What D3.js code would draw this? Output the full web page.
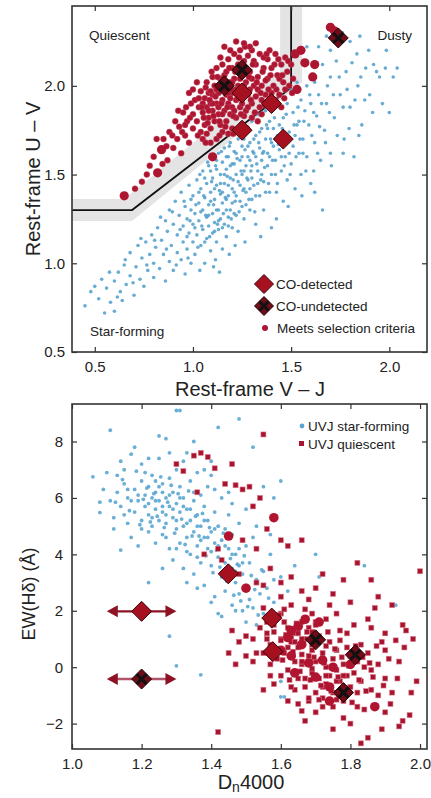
<!DOCTYPE html>
<html><head><meta charset="utf-8">
<script src="https://cdn.jsdelivr.net/npm/d3@7"></script>
<style>
body{margin:0;background:#fff}
svg{display:block}
text{font-family:"Liberation Sans",Arial,Helvetica,sans-serif;fill:#222}
</style>
</head><body>
<svg id="c" width="431" height="798"></svg>
<script>
// ---------------- DATA ----------------
// Top panel: UVJ diagram (x = Rest-frame V-J, y = Rest-frame U-V)
const uvjXTicks = [0.5, 1.0, 1.5, 2.0];
const uvjYTicks = [0.5, 1.0, 1.5, 2.0];
const uvjBoundary = [[0.384,1.3],[0.69,1.3],[1.5,1.99],[1.5,2.45]];
const uvjBoundaryBand = [[0.384,1.3],[0.67,1.3],[1.5,2.05],[1.5,2.45]];

const uvjAll = [
[0.45,0.76],[0.48,0.84],[0.5,0.87],[0.52,0.8],[0.55,0.72],[0.56,0.86],[0.58,0.78],[0.6,0.73],[0.6,0.9],[0.62,0.95],
[0.63,0.84],[0.64,0.79],[0.65,0.99],[0.66,0.88],[0.68,0.93],[0.68,1.06],[0.7,0.82],[0.71,0.98],[0.72,1.1],[0.73,0.91],
[0.74,1.03],[0.75,0.87],[0.76,1.12],[0.77,0.96],[0.78,1.05],[0.79,1.16],[0.8,0.92],[0.8,1.0],[0.81,1.09],[0.82,1.2],
[0.83,0.97],[0.84,1.13],[0.85,1.05],[0.86,1.24],[0.86,0.9],[0.87,1.18],[0.88,1.01],[0.88,1.3],[0.89,1.1],[0.9,1.22],
[0.9,0.96],[0.91,1.35],[0.92,1.06],[0.92,1.16],[0.93,1.27],[0.94,1.02],[0.94,1.4],[0.95,1.12],[0.95,1.21],[0.96,0.94],
[0.96,1.32],[0.97,1.08],[0.97,1.25],[0.98,1.17],[0.98,1.44],[0.99,1.0],[0.99,1.3],[1.0,1.12],[1.0,1.38],[1.0,1.22],
[1.01,1.05],[1.01,1.28],[1.02,1.47],[1.02,1.16],[1.03,1.34],[1.03,1.24],[1.04,1.1],[1.04,1.42],[1.05,1.19],[1.05,1.3],
[1.05,1.52],[1.06,1.0],[1.06,1.37],[1.07,1.14],[1.07,1.26],[1.07,1.45],[1.08,1.21],[1.08,1.33],[1.08,1.55],[1.09,1.07],
[1.09,1.4],[1.1,1.17],[1.1,1.28],[1.1,1.48],[1.1,1.6],[1.11,1.23],[1.11,1.36],[1.12,1.12],[1.12,1.44],[1.12,1.53],
[1.13,1.3],[1.13,1.19],[1.13,1.62],[1.14,1.39],[1.14,1.25],[1.14,1.5],[1.15,1.08],[1.15,1.34],[1.15,1.57],[1.16,1.22],
[1.16,1.45],[1.16,1.65],[1.17,1.3],[1.17,1.15],[1.17,1.53],[1.18,1.38],[1.18,1.6],[1.18,1.26],[1.19,1.48],[1.19,1.68],
[1.2,1.2],[1.2,1.34],[1.2,1.56],[1.2,1.42],[1.21,1.28],[1.21,1.63],[1.22,1.5],[1.22,1.38],[1.23,1.7],[1.23,1.18],
[1.24,1.44],[1.24,1.58],[1.25,1.32],[1.25,1.66],[1.26,1.52],[1.26,1.25],[1.27,1.4],[1.27,1.74],[1.28,1.6],[1.28,1.47],
[1.29,1.3],[1.29,1.68],[1.3,1.55],[1.3,1.8],[1.3,1.36],[1.31,1.62],[1.31,1.44],[1.32,1.72],[1.32,1.22],[1.33,1.52],
[1.33,1.84],[1.34,1.38],[1.34,1.65],[1.35,1.58],[1.35,1.76],[1.36,1.46],[1.36,1.3],[1.37,1.7],[1.37,1.86],[1.38,1.55],
[1.38,1.62],[1.39,1.4],[1.39,1.8],[1.4,1.5],[1.4,1.68],[1.4,1.2],[1.41,1.76],[1.42,1.58],[1.42,1.88],[1.43,1.45],
[1.44,1.64],[1.44,1.94],[1.45,1.52],[1.46,1.82],[1.46,1.35],[1.47,1.6],[1.48,1.9],[1.48,1.47],[1.49,1.74],[1.5,1.56],
[1.5,1.98],[1.51,1.66],[1.51,1.85],[1.52,1.42],[1.53,1.78],[1.53,2.02],[1.54,1.62],[1.55,1.92],[1.55,1.5],[1.56,1.7],
[1.57,1.86],[1.58,2.0],[1.58,1.6],[1.59,1.78],[1.6,1.45],[1.6,1.9],[1.62,1.68],[1.62,2.02],[1.63,1.83],[1.64,1.95],
[1.65,1.58],[1.66,2.12],[1.67,1.75],[1.68,1.9],[1.7,2.05],[1.7,1.62],[1.72,1.82],[1.73,2.14],[1.75,1.95],[1.76,2.3],
[1.77,1.7],[1.78,2.08],[1.8,1.88],[1.81,2.13],[1.82,1.6],[1.84,2.0],[1.85,2.28],[1.86,1.78],[1.88,2.1],[1.9,1.95],
[1.92,2.12],[1.95,2.05],[1.98,2.1],[2.0,1.85],[2.04,2.1],[2.02,2.05],[1.62,1.4],[1.58,2.22],[1.66,1.3],[0.97,1.15],
[0.99,1.36],[1.01,1.2],[1.03,1.4],[1.04,1.29],[1.06,1.12],[1.06,1.48],[1.08,1.27],[1.09,1.35],[1.09,1.52],[1.11,1.18],
[1.11,1.42],[1.12,1.3],[1.12,1.58],[1.13,1.24],[1.14,1.45],[1.15,1.2],[1.15,1.4],[1.16,1.5],[1.17,1.36],[1.17,1.6],
[1.18,1.21],[1.18,1.44],[1.19,1.3],[1.19,1.55],[1.21,1.4],[1.21,1.56],[1.22,1.27],[1.22,1.62],[1.23,1.46],[1.24,1.35],
[1.25,1.5],[1.25,1.6],[1.26,1.42],[1.26,1.7],[1.27,1.33],[1.27,1.55],[1.28,1.66],[1.29,1.42],[1.29,1.58],[1.3,1.48],
[1.31,1.7],[1.32,1.38],[1.32,1.6],[1.33,1.45],[1.34,1.74],[1.35,1.5],[1.36,1.63],[1.37,1.4],[1.38,1.76],[1.39,1.6],
[1.41,1.66],[1.42,1.5],[1.43,1.72],[1.45,1.6],[1.47,1.68],[1.49,1.62],[1.52,1.72],[1.54,1.8],[1.56,1.62],[1.44,1.78],
[0.535,0.91],[0.575,0.95],[0.615,0.81],[0.655,1.02],[0.695,0.89],[0.735,1.14],[0.765,0.99],[0.805,1.13],[0.835,1.26],[0.865,1.08],
[0.895,1.29],[0.915,0.99],[0.935,1.19],[0.955,1.35],[0.975,1.03],[0.985,1.24],[1.015,1.33],[1.025,1.09],[1.035,1.5],[1.045,1.21],
[1.055,1.38],[1.065,1.27],[1.075,1.57],[1.085,1.15],[1.095,1.46],[1.105,1.33],[1.115,1.55],[1.125,1.22],[1.135,1.41],[1.145,1.63],
[1.155,1.28],[1.165,1.37],[1.175,1.49],[1.185,1.66],[1.195,1.25],[1.205,1.47],[1.215,1.35],[1.225,1.59],[1.235,1.29],[1.245,1.52],
[1.255,1.41],[1.265,1.64],[1.275,1.48],[1.285,1.36],[1.295,1.52],[1.305,1.63],[1.315,1.29],[1.325,1.56],[1.335,1.68],[1.345,1.47],
[1.355,1.62],[1.365,1.54],[1.375,1.78],[1.385,1.45],[1.395,1.7],[1.405,1.58],[1.415,1.82],[1.425,1.4],[1.435,1.67],[1.455,1.76],
[1.465,1.55],[1.475,1.84],[1.485,1.7],[1.495,1.5],[1.515,1.78],[1.525,1.6],[1.535,1.88],[1.545,1.7],[1.565,1.8],[1.575,1.52],
[1.595,1.95],[1.605,1.72],[1.615,1.85],[1.635,1.62],[1.645,1.77],[1.655,1.9],[1.675,1.68],[1.685,2.0],[1.695,1.85],[1.715,1.95],
[1.735,1.72],[1.745,2.05],[1.765,1.88],[1.785,1.98],[1.795,1.76],[1.825,1.92],[1.835,2.18],[1.855,2.05],[1.875,1.92],[1.895,2.2],
[1.915,1.85],[1.935,2.08],[1.965,1.9],[1.985,2.2],[1.555,1.38],[1.615,1.52],[1.705,1.55],[1.765,1.62],[1.845,1.72],[1.485,1.32],
[1.425,1.25],[1.345,1.15],[1.265,1.12],[1.185,1.05],[1.105,0.98],[1.035,0.96],[1.135,0.95],[1.215,1.1],[1.115,1.02],[1.64,2.22],
[1.7,2.2],[1.8,2.25],[1.68,2.28]
];

const uvjSelected = [
[0.74,1.46],[0.78,1.55],[0.8,1.6],[0.85,1.7],[0.87,1.58],[0.88,1.74],[0.9,1.65],[0.91,1.8],[0.92,1.7],[0.93,1.77],
[0.94,1.62],[0.95,1.85],[0.96,1.72],[0.97,1.8],[0.98,1.68],[0.99,1.9],[1.0,1.76],[1.0,1.84],[1.01,1.92],[1.02,1.8],
[1.03,1.88],[1.04,1.97],[1.04,1.74],[1.05,1.85],[1.06,1.93],[1.06,1.78],[1.07,2.02],[1.07,1.88],[1.08,1.82],[1.08,1.96],
[1.09,1.9],[1.09,1.76],[1.1,2.05],[1.1,1.86],[1.1,1.95],[1.11,1.8],[1.11,2.0],[1.12,1.9],[1.12,2.1],[1.13,1.84],
[1.13,1.96],[1.14,2.04],[1.14,1.78],[1.15,1.92],[1.15,2.12],[1.16,1.86],[1.16,2.06],[1.17,1.95],[1.17,1.8],[1.18,2.15],
[1.18,1.9],[1.19,2.02],[1.19,1.84],[1.2,2.1],[1.2,1.96],[1.2,1.88],[1.21,2.18],[1.21,2.04],[1.22,1.92],[1.22,1.82],
[1.23,2.12],[1.23,2.0],[1.24,1.88],[1.24,2.2],[1.25,2.06],[1.26,1.94],[1.26,2.14],[1.27,1.86],[1.27,2.02],[1.28,2.17],
[1.28,1.95],[1.29,2.08],[1.3,1.9],[1.3,2.2],[1.31,2.0],[1.32,1.94],[1.32,2.12],[1.33,2.05],[1.34,1.88],[1.34,2.18],
[1.35,2.0],[1.36,2.1],[1.37,1.95],[1.38,2.15],[1.38,2.04],[1.39,1.9],[1.4,2.1],[1.41,2.0],[1.42,2.18],[1.43,2.06],
[1.44,1.95],[1.45,2.12],[1.46,2.02],[1.47,2.16],[1.48,2.08],[1.49,2.0],[1.5,2.12],[1.51,2.04],[1.05,1.9],[1.08,1.86],
[1.1,1.9],[1.12,1.98],[1.13,1.88],[1.15,1.84],[1.16,1.98],[1.17,2.08],[1.18,1.96],[1.19,1.93],[1.2,2.02],[1.21,1.86],
[1.22,1.98],[1.23,1.93],[1.24,2.04],[1.25,1.9],[1.26,2.0],[1.27,2.1],[1.28,1.88],[1.29,1.98],[1.3,2.04],[1.31,2.14],
[1.33,1.98],[1.35,1.92],[1.36,2.16],[1.4,1.96],[1.15,1.74],[1.2,1.76],[1.25,1.78],[1.3,1.82],[1.35,1.84],[1.12,1.7],
[1.05,1.7],[0.98,1.96],[1.02,2.02],[0.96,1.78],[1.09,1.68],[1.14,2.16],[1.19,2.2],[1.29,2.22],[1.39,2.2],[1.44,2.04],
[1.47,1.98],[1.45,1.88],[1.42,1.92],[1.37,2.03],[1.26,1.83],[1.18,1.73],[1.09,1.97],[1.03,1.93],[1.0,1.98],[1.07,1.73],
[1.055,1.82],[1.065,1.99],[1.075,1.79],[1.085,1.92],[1.095,2.08],[1.105,1.83],[1.115,1.94],[1.125,2.05],[1.135,1.8],[1.145,1.9],
[1.155,2.02],[1.165,1.77],[1.175,1.88],[1.185,2.1],[1.195,1.98],[1.205,1.83],[1.215,2.08],[1.225,1.95],[1.235,2.16],[1.245,1.84],
[1.255,2.12],[1.265,2.22],[1.275,1.97],[1.285,2.05],[1.295,1.92],[1.305,2.12],[1.315,1.85],[1.325,2.02],[1.345,1.96],[1.355,2.08],
[1.365,1.89],[1.375,2.18],[1.385,1.98],[1.395,2.06],[1.415,2.12],[1.425,1.98],[1.435,2.15],[1.455,2.06],[1.465,1.93],[1.485,2.14],
[1.505,1.96],[1.22,2.25],[1.26,2.24],[1.32,2.24],[1.16,2.22],[0.985,1.82],[0.965,1.88],[0.945,1.74],[0.925,1.86],[0.895,1.72],
[0.865,1.66],[0.845,1.56],[0.815,1.7],[0.765,1.5],[0.705,1.42],[1.025,1.72],[1.045,1.88],[1.065,1.68],[1.135,1.72],[1.205,1.73],
[1.275,1.76],[1.33,1.8]
];
const uvjSelectedLarge = [
[0.65,1.38],[0.82,1.51],[0.84,1.64],[1.1,1.6],[1.55,2.2],[1.57,2.13],[1.62,2.12],[1.61,2.05],[1.52,2.18],[1.7,2.33],[1.72,2.31],[1.53,1.98]
];
const uvjCODetected = [[1.25,1.96],[1.40,1.90],[1.25,1.75],[1.46,1.70]];
const uvjCOUndetected = [[1.74,2.27],[1.25,2.09],[1.16,2.0]];

// Bottom panel: EW(Hdelta) vs Dn4000
const d4XTicks = [1.0, 1.2, 1.4, 1.6, 1.8, 2.0];
const d4YTicks = [-2, 0, 2, 4, 6, 8];

const d4StarForming = [
[1.06,6.75],[1.08,5.48],[1.08,5.85],[1.1,6.9],[1.11,8.4],[1.12,5.3],[1.12,4.9],[1.13,6.2],[1.14,5.7],[1.14,4.15],
[1.15,6.5],[1.15,7.0],[1.16,5.1],[1.16,6.0],[1.17,4.6],[1.17,7.55],[1.18,5.5],[1.18,6.3],[1.19,5.9],[1.19,4.3],
[1.2,6.6],[1.2,5.2],[1.2,7.2],[1.21,5.7],[1.21,6.1],[1.22,4.8],[1.22,6.4],[1.22,5.4],[1.23,6.0],[1.23,5.0],
[1.23,6.8],[1.24,5.6],[1.24,4.4],[1.24,6.2],[1.25,5.9],[1.25,5.2],[1.25,7.4],[1.26,6.5],[1.26,4.7],[1.26,5.5],
[1.27,6.0],[1.27,5.1],[1.27,8.1],[1.28,5.7],[1.28,4.2],[1.28,6.7],[1.29,5.3],[1.29,6.2],[1.29,3.8],[1.3,5.8],
[1.3,4.9],[1.3,7.0],[1.31,5.5],[1.31,4.4],[1.31,6.4],[1.32,5.0],[1.32,6.0],[1.32,3.5],[1.33,5.6],[1.33,4.6],
[1.33,7.6],[1.34,5.2],[1.34,4.0],[1.34,6.6],[1.35,4.8],[1.35,5.9],[1.35,3.3],[1.36,5.4],[1.36,4.3],[1.36,6.9],
[1.37,5.0],[1.37,3.7],[1.37,6.1],[1.38,4.6],[1.38,5.7],[1.38,2.9],[1.39,4.2],[1.39,5.2],[1.39,6.4],[1.4,3.6],
[1.4,4.8],[1.4,7.3],[1.41,4.4],[1.41,5.5],[1.41,2.5],[1.42,3.9],[1.42,5.0],[1.42,1.9],[1.43,4.5],[1.43,3.2],
[1.43,6.0],[1.44,3.7],[1.44,4.9],[1.44,2.7],[1.45,4.2],[1.45,5.4],[1.46,3.5],[1.46,2.2],[1.46,4.7],[1.47,3.0],
[1.47,4.0],[1.48,2.6],[1.48,3.6],[1.48,5.1],[1.49,2.0],[1.49,3.3],[1.5,2.9],[1.5,4.3],[1.5,1.6],[1.51,2.4],
[1.51,3.7],[1.52,2.1],[1.53,3.1],[1.53,1.5],[1.54,2.6],[1.55,3.4],[1.55,1.9],[1.56,2.8],[1.57,4.0],[1.58,2.3],
[1.58,6.0],[1.6,3.2],[1.6,6.6],[1.62,2.7],[1.6,-0.5],[1.6,-1.05],[1.61,-1.05],[1.52,7.8],[1.48,8.8],[1.42,8.5],
[1.3,9.1],[1.31,9.1],[1.35,8.0],[1.25,8.2],[1.18,7.8],[1.28,1.1],[1.3,0.05],[1.37,-0.27],[1.22,3.0],[1.43,1.8],
[1.7,4.0],[1.71,3.2],[1.84,3.6],[1.93,2.2],[1.5,5.6],[1.45,6.2],[1.4,6.8],[1.53,5.0],[1.57,4.7],[1.55,6.4],
[1.21,6.9],[1.23,5.3],[1.24,5.9],[1.25,6.4],[1.26,5.7],[1.27,5.4],[1.28,6.1],[1.29,5.6],[1.3,5.2],[1.31,6.0],
[1.32,5.7],[1.33,5.1],[1.34,5.6],[1.35,6.2],[1.36,5.0],[1.37,4.5],[1.38,5.2],[1.39,4.6],[1.4,4.1],[1.41,4.9],
[1.42,4.3],[1.43,3.8],[1.44,4.3],[1.45,3.2],[1.46,4.0],[1.47,3.4],[1.48,4.2],[1.49,3.7],[1.27,4.6],[1.3,4.2],
[1.33,4.1],[1.36,3.9],[1.2,4.9],[1.19,6.1],[1.17,5.9],[1.16,6.3],[1.15,5.4],[1.22,5.8],[1.24,6.6],[1.26,6.2],
[1.125,5.85],[1.145,6.65],[1.165,5.55],[1.185,6.95],[1.195,5.05],[1.205,5.95],[1.215,6.35],[1.225,5.15],[1.235,6.15],[1.245,5.35],
[1.255,6.75],[1.265,4.95],[1.275,5.85],[1.285,6.45],[1.295,4.75],[1.305,6.15],[1.315,5.25],[1.325,4.35],[1.335,6.25],[1.345,4.65],
[1.355,5.35],[1.365,4.65],[1.375,5.45],[1.385,3.95],[1.395,4.95],[1.405,3.35],[1.415,4.15],[1.425,3.55],[1.435,4.75],[1.445,3.05],
[1.455,3.85],[1.465,2.55],[1.475,3.65],[1.485,2.35],[1.495,3.95],[1.505,2.15],[1.515,3.25],[1.525,2.75],[1.535,1.85],[1.545,3.45],
[1.565,2.45],[1.58,3.1],[1.52,4.6],[1.46,5.8],[1.41,6.3],[1.38,7.0],[1.32,7.3],[1.28,7.6],[1.22,7.4],[1.14,7.3],
[1.13,6.8],[1.11,5.9],[1.09,6.3],[1.64,3.6],[1.59,1.7],[1.47,2.0],[1.4,2.3],[1.36,2.8],[1.33,3.0],[1.26,3.5]
];

const d4Quiescent = [
[1.3,7.2],[1.32,6.95],[1.35,7.5],[1.37,7.6],[1.39,7.45],[1.41,7.05],[1.36,6.2],[1.44,6.5],[1.46,7.2],[1.47,6.45],
[1.49,6.3],[1.51,6.4],[1.55,8.25],[1.54,6.0],[1.52,5.7],[1.42,4.2],[1.49,4.5],[1.56,4.9],[1.53,4.2],[1.6,4.5],
[1.62,4.3],[1.66,4.5],[1.38,4.0],[1.43,3.8],[1.48,3.3],[1.53,3.0],[1.55,2.9],[1.57,3.5],[1.6,3.0],[1.63,3.2],
[1.66,2.7],[1.7,2.8],[1.72,3.3],[1.75,2.6],[1.78,3.1],[1.82,3.7],[1.86,3.1],[2.0,3.4],[1.88,2.5],[1.92,2.2],
[1.95,1.5],[1.98,1.0],[1.9,1.2],[1.55,2.1],[1.56,1.2],[1.57,0.8],[1.58,1.5],[1.59,0.3],[1.6,1.9],[1.6,1.0],
[1.61,0.5],[1.62,1.4],[1.62,-0.1],[1.63,0.9],[1.63,2.2],[1.64,0.2],[1.64,1.2],[1.65,0.7],[1.65,-0.4],[1.66,1.6],
[1.66,0.1],[1.67,1.0],[1.67,-0.7],[1.68,0.4],[1.68,1.4],[1.69,-0.2],[1.69,0.8],[1.7,1.6],[1.7,-0.9],[1.7,0.2],
[1.71,-0.4],[1.71,1.1],[1.72,0.5],[1.72,-1.1],[1.73,0.0],[1.73,-0.6],[1.74,0.9],[1.74,-0.3],[1.75,0.3],[1.75,-0.9],
[1.76,-0.1],[1.76,0.6],[1.77,-0.5],[1.77,1.3],[1.78,0.1],[1.78,-1.2],[1.79,-0.3],[1.79,0.7],[1.8,-0.7],[1.8,0.4],
[1.81,-0.2],[1.81,1.5],[1.82,-0.9],[1.82,0.2],[1.83,0.8],[1.83,-0.5],[1.84,0.0],[1.84,-1.5],[1.85,0.5],[1.86,-0.8],
[1.86,1.4],[1.88,0.1],[1.88,-1.0],[1.9,0.6],[1.9,-0.4],[1.92,-0.9],[1.94,0.2],[1.95,-1.9],[1.97,-1.7],[1.8,-2.0],
[1.78,-1.8],[1.72,-1.4],[1.68,-1.2],[1.65,-1.3],[1.62,-1.2],[1.58,-0.6],[1.55,-0.8],[1.53,0.5],[1.52,1.0],[1.5,0.4],
[1.48,0.9],[1.45,0.5],[1.46,1.3],[1.42,-2.3],[1.83,-2.7],[1.85,-2.5],[1.6,-0.3],[1.57,0.1],[1.66,0.45],[1.69,1.9],
[1.73,1.7],[1.76,1.9],[1.79,1.2],[1.85,1.7],[1.89,0.9],[1.64,-0.8],[1.75,-1.4],[1.86,-0.1],[1.91,0.3],[1.96,1.3],
[1.61,1.6],[1.63,1.05],[1.64,0.9],[1.66,1.0],[1.69,0.6],[1.7,1.5],[1.72,-0.7],[1.67,-0.4],[1.73,-0.3],[1.76,-0.5],
[1.62,0.7],[1.58,1.25],[1.68,-1.1],[1.71,-1.15],[1.78,-0.3],[1.66,0.2],[1.56,1.0],[1.6,0.95],[1.65,1.2],[1.69,-0.05],
[1.585,0.65],[1.595,1.85],[1.605,0.25],[1.615,1.15],[1.625,-0.45],[1.635,0.55],[1.645,1.55],[1.655,-0.15],[1.665,0.85],[1.675,1.25],
[1.685,-0.45],[1.695,0.35],[1.705,1.05],[1.715,-0.65],[1.725,0.15],[1.735,1.25],[1.745,-0.85],[1.755,0.65],[1.765,-0.35],[1.775,0.35],
[1.785,-0.75],[1.795,0.05],[1.805,-1.25],[1.815,0.75],[1.825,-0.45],[1.835,0.35],[1.845,-0.85],[1.855,0.15],[1.865,-0.35],[1.875,0.75],
[1.895,-0.65],[1.915,-1.3],[1.935,-0.4],[1.955,0.7],[1.975,-0.9],[1.7,-1.6],[1.66,-1.55],[1.76,-1.15],[1.82,-1.4],[1.9,-1.6],
[1.93,0.95],[1.87,2.1],[1.8,2.3],[1.74,2.2],[1.68,2.4],[1.6,2.5],[1.56,1.6],[1.54,1.4],[1.52,0.2],[1.5,1.1],
[1.47,0.1],[1.55,0.5],[1.63,-0.7],[1.69,1.25],[1.73,0.75],[1.77,0.95],[1.61,2.05],[1.67,2.05],[1.57,-0.3],[1.99,-0.5],
[1.94,-2.1],[1.89,-2.2],[1.75,-2.2],[1.67,-1.9]
];
const d4QuiescentLarge = [
[1.58,5.3],[1.45,4.65],[1.5,2.8],[1.87,-1.4],[1.63,1.3],[1.66,0.8],[1.71,1.6],[1.74,-0.7],[1.64,-0.2],
[1.62,1.05],[1.68,0.15],[1.72,0.25],[1.75,0.0],[1.7,-0.35],[1.77,-0.95],[1.65,1.45],[1.6,0.6],[1.67,1.7],[1.74,-1.2],[1.8,0.1],[1.63,0.4]
];
const d4CODetected = [[1.449,3.31],[1.574,1.74],[1.577,0.55]];
const d4COUndetected = [[1.70,0.97],[1.814,0.44],[1.78,-0.9]];
// galaxies without a Dn4000 measurement: plotted at the middle of the allowed range
const d4CODetectedNoDn = [[1.2,1.98]];
const d4COUndetectedNoDn = [[1.2,-0.42]];
const d4ArrowRange = [1.1, 1.3];

// ---------------- DRAW ----------------
const svg = d3.select("#c");
const RED = "#ad1631", BLUE = "#4f9dcb", DIAMOND = "#a5111f", DIAMOND_DARK = "#6e0c18";

function frame(g, x, y) {
  const [x0,x1] = x.range(), [y0,y1] = y.range();
  g.append("rect").attr("x", x0).attr("y", y1).attr("width", x1-x0).attr("height", y0-y1)
    .attr("fill","none").attr("stroke","#333").attr("stroke-width",1.6);
}
function axes(g, x, y, xt, yt, xfmt, yfmt, xpad, ypad) {
  const [x0,x1] = x.range(), [y0,y1] = y.range();
  const ax = [
    g.append("g").attr("transform",`translate(0,${y0})`).call(d3.axisBottom(x).tickValues(xt).tickSize(-5).tickPadding(xpad).tickFormat(d3.format(xfmt))),
    g.append("g").attr("transform",`translate(0,${y1})`).call(d3.axisTop(x).tickValues(xt).tickSize(-5).tickFormat("")),
    g.append("g").attr("transform",`translate(${x0},0)`).call(d3.axisLeft(y).tickValues(yt).tickSize(-5).tickPadding(ypad).tickFormat(d3.format(yfmt))),
    g.append("g").attr("transform",`translate(${x1},0)`).call(d3.axisRight(y).tickValues(yt).tickSize(-5).tickFormat(""))
  ];
  ax.forEach(a => {
    a.select(".domain").remove();
    a.selectAll(".tick line").attr("stroke","#333").attr("stroke-width",1.2);
    a.selectAll(".tick text").style("font-family",'"Liberation Sans",Arial,sans-serif').style("font-size","15px").attr("fill","#222");
  });
}
function diamond(g, cx, cy, r, fill, stroke) {
  g.append("path").attr("d", `M${cx},${cy-r}L${cx+r},${cy}L${cx},${cy+r}L${cx-r},${cy}Z`)
    .attr("fill", fill).attr("stroke", stroke).attr("stroke-width", 1);
}
function cross(g, cx, cy, s) {
  g.append("path").attr("d", `M${cx-s},${cy-s}L${cx+s},${cy+s}M${cx-s},${cy+s}L${cx+s},${cy-s}`)
    .attr("stroke","#111").attr("stroke-width",3);
}

// ----- Top panel -----
const xT = d3.scaleLinear().domain([0.384, 2.192]).range([72, 427]);
const yT = d3.scaleLinear().domain([0.5, 2.45]).range([352, 6]);
const gTop = svg.append("g");
svg.append("clipPath").attr("id","clipT").append("rect").attr("x",72).attr("y",6).attr("width",355).attr("height",346);
const topPlot = gTop.append("g").attr("clip-path","url(#clipT)");
const lineGen = d3.line().x(d => xT(d[0])).y(d => yT(d[1]));
topPlot.append("path").attr("d", lineGen(uvjBoundaryBand)).attr("fill","none").attr("stroke","#e4e4e4").attr("stroke-width",22).attr("stroke-linejoin","miter");
topPlot.append("path").attr("d", lineGen(uvjBoundary)).attr("fill","none").attr("stroke","#111").attr("stroke-width",1.8);

topPlot.selectAll(".b").data(uvjAll).join("circle")
  .attr("cx", d => xT(d[0])).attr("cy", d => yT(d[1])).attr("r", 1.8)
  .attr("fill", BLUE).attr("opacity", 0.85);
topPlot.selectAll(".r").data(uvjSelected).join("circle")
  .attr("cx", d => xT(d[0])).attr("cy", d => yT(d[1])).attr("r", 3)
  .attr("fill", RED).attr("stroke","#c8506a").attr("stroke-width",0.4);
topPlot.selectAll(".rl").data(uvjSelectedLarge).join("circle")
  .attr("cx", d => xT(d[0])).attr("cy", d => yT(d[1])).attr("r", 4.6)
  .attr("fill", RED);
uvjCODetected.forEach(d => diamond(topPlot, xT(d[0]), yT(d[1]), 10, DIAMOND, "#3d0008"));
uvjCOUndetected.forEach(d => { diamond(topPlot, xT(d[0]), yT(d[1]), 10, DIAMOND_DARK, "#2a0005"); cross(topPlot, xT(d[0]), yT(d[1]), 5); });

frame(gTop, xT, yT);
axes(gTop, xT, yT, uvjXTicks, uvjYTicks, ".1f", ".1f", 9, 7);

gTop.append("text").attr("x", 89).attr("y", 40).style("font-size","13.5px").text("Quiescent");
gTop.append("text").attr("x", 412).attr("y", 40).attr("text-anchor","end").style("font-size","13.5px").text("Dusty");
gTop.append("text").attr("x", 90).attr("y", 336).style("font-size","13.5px").text("Star-forming");

// legend top
diamond(gTop, 264, 284, 9.5, DIAMOND, "#3d0008");
gTop.append("text").attr("x", 276).attr("y", 289).style("font-size","13.5px").text("CO-detected");
diamond(gTop, 264, 306, 9.5, DIAMOND_DARK, "#2a0005"); cross(gTop, 264, 306, 4.5);
gTop.append("text").attr("x", 276).attr("y", 311).style("font-size","13.5px").text("CO-undetected");
gTop.append("circle").attr("cx", 265).attr("cy", 328).attr("r", 3).attr("fill", RED);
gTop.append("text").attr("x", 277).attr("y", 333).style("font-size","13.5px").text("Meets selection criteria");

gTop.append("text").attr("x", 250).attr("y", 396).attr("text-anchor","middle").style("font-size","20px").text("Rest-frame V – J");
gTop.append("text").attr("transform","translate(40,179) rotate(-90)").attr("text-anchor","middle").style("font-size","20px").text("Rest-frame U – V");

// ----- Bottom panel -----
const xB = d3.scaleLinear().domain([1.0, 2.02]).range([72, 427]);
const yB = d3.scaleLinear().domain([-2.9, 9.33]).range([749, 404]);
const gBot = svg.append("g");
svg.append("clipPath").attr("id","clipB").append("rect").attr("x",72).attr("y",404).attr("width",355).attr("height",345);
const botPlot = gBot.append("g").attr("clip-path","url(#clipB)");

botPlot.selectAll(".b").data(d4StarForming).join("circle")
  .attr("cx", d => xB(d[0])).attr("cy", d => yB(d[1])).attr("r", 1.9)
  .attr("fill", "#5aa6d2").attr("opacity", 0.9);
botPlot.selectAll(".q").data(d4Quiescent).join("rect")
  .attr("x", d => xB(d[0]) - 2.5).attr("y", d => yB(d[1]) - 2.5).attr("width", 5).attr("height", 5)
  .attr("fill", "#a8142e").attr("stroke","#d77a8c").attr("stroke-width",0.6);
botPlot.selectAll(".ql").data(d4QuiescentLarge).join("circle")
  .attr("cx", d => xB(d[0])).attr("cy", d => yB(d[1])).attr("r", 4.8)
  .attr("fill", "#b0142f");

function arrow(g, y, color) {
  const xa = xB(d4ArrowRange[0]), xb = xB(d4ArrowRange[1]);
  g.append("line").attr("x1", xa+6).attr("x2", xb-6).attr("y1", y).attr("y2", y).attr("stroke", color).attr("stroke-width", 2.4);
  g.append("path").attr("d", `M${xa},${y}L${xa+11},${y-6}L${xa+11},${y+6}Z`).attr("fill", "#8e1224");
  g.append("path").attr("d", `M${xb},${y}L${xb-11},${y-6}L${xb-11},${y+6}Z`).attr("fill", "#8e1224");
}
d4CODetectedNoDn.forEach(d => { arrow(botPlot, yB(d[1]), "#8e1224"); diamond(botPlot, xB(d[0]), yB(d[1]), 10, DIAMOND, "#3d0008"); });
d4COUndetectedNoDn.forEach(d => { arrow(botPlot, yB(d[1]), "#b0556a"); diamond(botPlot, xB(d[0]), yB(d[1]), 10, DIAMOND_DARK, "#2a0005"); cross(botPlot, xB(d[0]), yB(d[1]), 5); });
d4CODetected.forEach(d => diamond(botPlot, xB(d[0]), yB(d[1]), 10, DIAMOND, "#3d0008"));
d4COUndetected.forEach(d => { diamond(botPlot, xB(d[0]), yB(d[1]), 10, DIAMOND_DARK, "#2a0005"); cross(botPlot, xB(d[0]), yB(d[1]), 5); });

frame(gBot, xB, yB);
axes(gBot, xB, yB, d4XTicks, d4YTicks, ".1f", "d", 9, 9);

// legend bottom
gBot.append("circle").attr("cx", 302).attr("cy", 426).attr("r", 2.4).attr("fill", "#5aa6d2");
gBot.append("text").attr("x", 308).attr("y", 431).style("font-size","13.5px").text("UVJ star-forming");
gBot.append("rect").attr("x", 299).attr("y", 441).attr("width", 5).attr("height", 5).attr("fill", "#a8142e");
gBot.append("text").attr("x", 308).attr("y", 449).style("font-size","13.5px").text("UVJ quiescent");

const xl = gBot.append("text").attr("x", 251).attr("y", 789).attr("text-anchor","middle").style("font-size","20px");
xl.append("tspan").text("D");
xl.append("tspan").attr("dy", 3).style("font-size","14px").text("n");
xl.append("tspan").attr("dy", -3).text("4000");
gBot.append("text").attr("transform","translate(35,594) rotate(-90)").attr("text-anchor","middle").style("font-size","18px").text("EW(Hδ) (Å)");
</script>
</body></html>
